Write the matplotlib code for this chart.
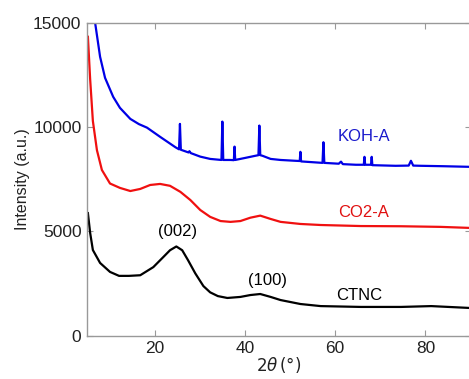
import matplotlib
matplotlib.use("Agg")
import matplotlib.pyplot as plt

# Perfiles DRX (2theta en grados, intensidad en u.a.)
theta_koh = [6.8, 7.9, 9.0, 10.8, 12.3, 14.6, 16.5, 18.3, 21.2, 24.6, 25.4, 25.6, 25.8,
             27.5, 27.7, 28.0, 30.1, 32.3, 34.8, 35.0, 35.2, 36.8, 37.55, 37.7, 37.85,
             40.1, 42.3, 43.0, 43.2, 43.4, 43.9, 45.7, 47.9, 51.2, 52.15, 52.3, 52.45,
             57.2, 57.4, 57.6, 60.8, 61.3, 61.7, 64.6, 66.35, 66.5, 66.65, 67.95,
             68.1, 68.25, 73.4, 76.3, 76.8, 77.3, 79.0, 84.0, 89.9]
int_koh = [15010, 13380, 12370, 11460, 10930, 10400, 10150, 9980, 9540, 9040, 8940, 10160, 8920,
           8790, 8850, 8760, 8590, 8480, 8430, 10270, 8430, 8430, 8420, 9070, 8430,
           8530, 8630, 8660, 10080, 8660, 8630, 8480, 8430, 8390, 8380, 8820, 8360,
           8290, 9280, 8290, 8250, 8350, 8230, 8200, 8200, 8580, 8200, 8200,
           8580, 8180, 8150, 8160, 8390, 8160, 8150, 8130, 8100]

theta_co2 = [5.2, 5.7, 6.3, 7.2, 8.3, 10.1, 12.3, 14.6, 16.8, 19.0, 21.2, 23.4,
             25.7, 27.9, 30.1, 32.3, 34.6, 36.8, 39.0, 41.2, 43.4, 45.7, 47.9,
             52.3, 56.8, 65.7, 74.6, 83.4, 89.9]
int_co2 = [14340, 12300, 10300, 8900, 7950, 7300, 7090, 6940, 7040, 7230, 7280, 7190,
           6900, 6510, 6030, 5700, 5500, 5460, 5500, 5660, 5760, 5600, 5460,
           5360, 5310, 5260, 5250, 5220, 5170]

theta_ctnc = [5.2, 5.7, 6.3, 7.9, 10.1, 12.1, 14.3, 16.8, 19.7, 21.9, 23.4, 24.8,
              26.1, 27.4, 29.0, 30.8, 32.3, 34.0, 36.1, 39.0, 41.2, 43.4, 45.7,
              47.9, 52.3, 56.8, 65.7, 74.6, 81.3, 89.9]
int_ctnc = [5880, 4930, 4110, 3490, 3060, 2870, 2870, 2900, 3290, 3770, 4100, 4280,
            4100, 3620, 2990, 2380, 2080, 1900, 1810, 1860, 1950, 2000, 1860,
            1710, 1520, 1420, 1380, 1380, 1420, 1330]

x_ticks = [20, 40, 60, 80]
y_ticks = [0, 5000, 10000, 15000]

plt.rcParams["font.family"] = ["Liberation Sans", "DejaVu Sans"]

fig = plt.figure(figsize=(4.69, 3.79), dpi=100)
ax = fig.add_axes([87 / 469, 1 - 335.7 / 379, 383.5 / 469, 312.7 / 379])

ax.plot(theta_koh, int_koh, color="#0000e6", lw=1.6)
ax.plot(theta_co2, int_co2, color="#f01010", lw=1.6)
ax.plot(theta_ctnc, int_ctnc, color="black", lw=1.6)

ax.text(66.3, 9540, "KOH-A", color="#1a1acc", fontsize=12, ha="center", va="center")
ax.text(66.3, 5930, "CO2-A", color="#e01010", fontsize=12, ha="center", va="center")
ax.text(65.4, 1950, "CTNC", color="black", fontsize=12, ha="center", va="center")
ax.text(25.0, 4980, "(002)", color="black", fontsize=12, ha="center", va="center")
ax.text(45.0, 2670, "(100)", color="black", fontsize=12, ha="center", va="center")

ax.set_xlim(5, 90)
ax.set_ylim(0, 15000)
ax.set_xticks(x_ticks)
ax.set_yticks(y_ticks)
ax.tick_params(direction="in", top=True, right=True, length=4, color="#999999",
               labelsize=12.5, labelcolor="#222222", pad=4)
for s in ax.spines.values():
    s.set_color("#999999")
    s.set_linewidth(1.0)

ax.set_ylabel("Intensity (a.u.)", fontsize=11.5, color="#222222", labelpad=2)
ax.set_xlabel(r"$2\theta\,(\degree)$", fontsize=12, color="#222222", labelpad=-1)

fig.savefig("out.png", dpi=100)
